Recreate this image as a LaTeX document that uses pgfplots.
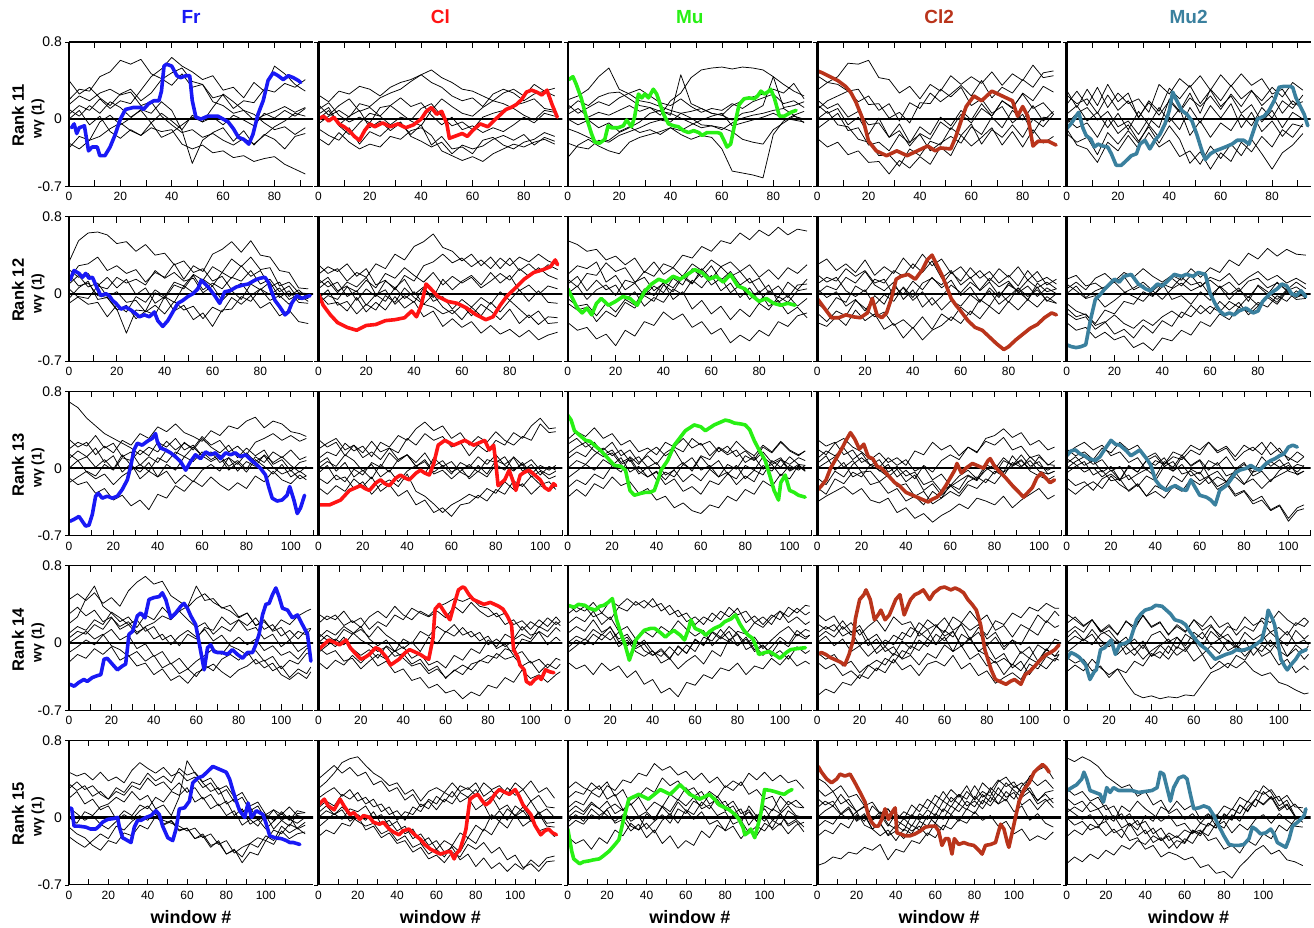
\documentclass[border=0pt]{standalone}
\usepackage{pgfplots}
\pgfplotsset{compat=1.18}
\usepackage{pgfplotstable}
\usepackage{fontspec}
\setmainfont{Liberation Sans}
\usetikzlibrary{calc}

\definecolor{cFr}{RGB}{25,25,245}
\definecolor{cCl}{RGB}{255,20,20}
\definecolor{cMu}{RGB}{40,240,20}
\definecolor{cClt}{RGB}{185,52,27}
\definecolor{cMut}{RGB}{58,128,158}

% values in hundredths of w_gamma
% ---------------- Rank 11 ----------------
\pgfplotstableread{
x a b c d e f g h
0 20 5 -25 10 -30 15 40 0
4 31 14 -31 3 -18 24 26 9
8 29 9 -22 14 -22 19 33 -6
12 44 21 -18 6 -3 27 22 3
16 49 11 -10 18 4 31 14 -13
20 61 19 -4 12 -6 25 26 -20
24 57 16 -12 2 1 28 31 -11
28 62 30 -17 9 10 14 19 -17
32 47 44 -9 -4 6 18 27 -4
36 42 52 -13 6 18 3 41 -19
40 35 64 -11 -2 9 -6 48 -14
44 47 55 -26 -11 -12 -14 53 -6
48 33 49 -31 4 -46 -11 39 2
52 36 41 -27 -3 -22 -19 36 -3
56 22 45 -35 2 -14 -15 18 12
60 25 30 -33 -6 -9 -22 14 26
64 11 33 -40 4 -23 -27 6 18
68 19 22 -38 -1 -12 -20 9 9
72 17 38 -44 -7 -27 -26 -1 5
76 31 29 -41 6 -16 -17 4 -4
80 28 55 -39 1 -21 -8 8 -11
84 37 47 -47 9 -31 -2 13 -8
88 33 36 -52 3 -18 6 7 -16
92 41 29 -57 11 -15 3 12 -9
}\tAa
\pgfplotstableread{
x a b c d e f g h
0 25 10 -5 -20 5 15 -10 0
4 18 17 3 -27 12 4 -17 9
8 29 4 9 -14 -6 14 -22 -7
12 26 -3 2 -24 3 21 -9 -16
16 34 2 16 -31 9 8 -26 -4
20 31 -4 13 -26 -9 12 -13 6
24 24 12 22 -29 -2 3 -18 3
28 33 14 27 -18 -12 -6 -8 14
32 38 6 31 -21 -4 2 -3 22
36 41 -2 39 -12 -16 -1 -18 13
40 46 -7 46 -9 -6 11 -23 17
44 51 9 38 -17 -27 16 -29 4
48 43 21 33 -33 -18 3 -24 -6
52 38 13 24 -38 -31 -7 -36 2
56 31 6 19 -43 -29 -3 -27 -11
60 29 3 22 -39 -36 -11 -31 -7
64 24 12 13 -44 -22 2 -28 -14
68 19 19 26 -36 -19 6 -21 -9
72 27 16 31 -31 -27 9 -17 -13
76 31 11 27 -26 -31 14 -22 -6
80 24 4 19 -29 -24 17 -16 2
84 36 -1 26 -24 -21 21 -27 -4
88 29 9 29 -21 -14 11 -19 6
92 32 7 24 -26 -18 9 -23 3
}\tAb
\pgfplotstableread{
x a b c d e f g h
0 5 -40 20 -10 10 0 15 -25
4 11 -27 24 -14 19 -6 6 -29
8 2 -21 31 -19 14 -1 12 -31
12 7 -28 44 -24 23 -9 18 -22
16 4 -33 53 -22 27 -4 14 -24
20 9 -36 31 -14 28 -13 22 -17
24 14 -24 26 -9 21 -8 27 -13
28 8 -19 19 -3 14 -14 31 -9
32 12 -16 17 6 12 -11 24 -4
36 4 -13 13 9 8 -16 17 -1
40 19 -9 9 4 6 -9 14 -3
44 27 -16 6 46 1 -12 21 6
48 43 -21 8 16 -4 -6 13 1
52 51 -17 11 11 -9 -1 7 -6
56 53 -19 6 6 -7 3 11 -7
60 54 -31 4 4 -11 6 9 -9
64 52 -54 14 -1 -4 -7 16 -13
68 54 -56 19 6 1 -4 11 -21
72 53 -58 23 8 4 -1 18 -24
76 51 -61 26 14 6 2 22 -26
80 44 -16 31 44 9 6 26 -11
84 12 -2 27 36 11 1 16 -4
88 14 4 37 29 4 -1 19 3
92 18 -4 21 24 8 -3 12 0
}\tAc
\pgfplotstableread{
x a b c d e f g h
0 30 10 -10 45 0 20 -20 15
4 38 19 -2 38 8 11 -29 6
8 44 24 6 36 -6 16 -24 11
12 58 29 -12 29 -8 2 -37 -6
16 57 18 -9 31 -21 8 -33 2
20 61 24 -27 15 -24 -6 -45 -16
24 43 9 -24 16 -38 -4 -44 1
28 41 16 -33 1 -37 -19 -57 -19
32 27 -2 -16 7 -49 -12 -43 -5
36 34 17 -25 -4 -31 -28 -51 -24
40 21 11 -8 17 -38 -15 -39 -16
44 36 27 -16 16 -23 -21 -47 -33
48 29 18 2 31 -27 -3 -29 -25
52 45 26 -7 23 -9 -11 -38 -18
56 36 35 9 33 -17 5 -17 -25
60 44 24 -1 14 -5 -4 -28 -8
64 37 40 16 21 -26 11 -19 -16
68 49 22 3 6 -11 3 -9 2
72 35 33 19 13 -19 19 -27 -9
76 47 27 12 -4 -6 11 -13 9
80 40 41 26 5 -19 27 -29 -1
84 56 33 11 -15 0 19 -11 14
88 43 48 17 2 -8 34 -25 -2
92 45 50 5 0 5 28 -18 8
}\tAd
\pgfplotstableread{
x a b c d e f g h
0 15 -5 25 5 -15 30 0 -10
4 29 6 16 14 -24 12 -9 -27
8 14 12 21 -2 -19 31 -4 -31
12 33 -1 6 7 -37 14 -19 -45
16 12 8 25 -9 -14 36 1 -24
20 27 -8 9 6 -26 18 -15 -33
24 16 -2 19 -11 -12 27 -6 -17
28 21 -16 2 8 -25 1 -23 -31
32 7 1 17 -6 -6 19 -8 -14
36 36 -9 4 12 -19 8 -25 -29
40 26 21 19 -3 2 32 -7 -22
44 42 8 7 11 -11 21 -21 -39
48 33 27 22 -17 12 35 -46 -33
52 45 6 13 -2 -4 16 -34 -47
56 30 31 24 -19 14 30 -52 -28
60 46 19 10 -4 1 13 -35 -41
64 34 35 26 -12 16 24 -44 -26
68 47 21 13 5 -9 6 -24 -38
72 35 30 29 -7 7 15 -34 -21
76 42 14 19 12 -13 -3 -18 -36
80 26 24 33 1 -2 9 -29 -52
84 31 6 23 19 -18 -9 -11 -35
88 15 19 38 11 -5 7 -19 -27
92 18 10 30 25 -8 0 -5 -15
}\tAe
% ---------------- Rank 12 ----------------
\pgfplotstableread{
x a b c d e f g h
0 33 15 20 5 -10 25 10 -5
4 55 29 8 -4 -3 17 19 6
8 63 31 11 -11 -5 21 7 13
12 64 38 -2 -9 8 8 11 -6
16 61 24 -4 -24 5 17 -3 -4
20 52 29 -16 -12 17 6 2 -17
24 54 21 -41 -19 11 15 -9 -12
28 44 25 -17 -3 15 -1 -7 -26
32 51 12 -18 -9 9 6 -19 -18
36 40 22 1 4 24 -10 -12 -22
40 42 17 -5 -3 16 -3 -21 -3
44 30 31 9 12 22 -18 -8 -9
48 34 15 5 8 13 -12 -17 8
52 22 29 19 20 16 -27 -13 1
56 26 23 4 14 1 -20 -26 15
60 13 41 11 28 8 -34 -14 8
64 18 46 5 22 -7 -17 -19 22
68 4 54 17 36 3 -16 -4 16
72 11 43 13 28 -6 -3 -11 29
76 -2 55 24 38 10 -8 -2 18
80 5 40 10 25 4 5 -15 24
84 -7 38 15 27 12 -1 -9 7
88 -2 24 2 8 -4 6 -23 12
92 -11 22 8 12 3 -6 -17 -3
96 -1 6 -6 1 -9 -1 -29 4
100 0 5 -5 0 -10 -8 -31 -5
}\tBa
\pgfplotstableread{
x a b c d e f g h
0 20 5 -10 10 30 -5 0 15
4 28 13 -2 17 21 4 -11 7
8 23 1 -6 3 26 -12 -9 12
12 31 12 7 8 13 -8 -18 -3
16 18 7 2 -7 22 -21 -4 3
20 26 17 14 5 17 -11 -19 -12
24 9 -1 6 -3 31 -17 -9 -1
28 14 4 21 13 26 -2 -17 -8
32 4 -11 16 6 41 -9 -3 6
36 19 -2 27 15 35 6 -15 -5
40 13 -9 19 -1 49 -4 -8 2
44 29 6 12 7 54 -11 -24 -11
48 33 -4 22 -8 62 -1 -18 -14
52 41 15 9 -3 48 -14 -34 -21
56 32 4 18 -16 44 -21 -26 -17
60 37 13 11 -6 34 -12 -35 -27
64 28 19 17 -14 41 -23 -29 -14
68 35 9 6 -4 29 -11 -41 -23
72 26 22 13 -11 38 -18 -33 -9
76 37 11 21 2 26 -27 -42 -19
80 29 19 14 -7 37 -16 -37 -7
84 38 3 26 4 24 -31 -45 -16
88 33 9 18 -8 31 -22 -38 -25
92 41 -1 27 3 22 -32 -48 -18
96 34 8 19 -9 30 -24 -43 -31
100 30 5 15 -10 25 -25 -40 -30
}\tBb
\pgfplotstableread{
x a b c d e f g h
0 55 10 -10 20 -30 0 15 -5
4 51 18 -17 29 -38 8 7 -13
8 44 3 -14 26 -35 -6 21 -11
12 46 14 -29 33 -47 4 19 -23
16 35 4 -18 12 -42 9 32 -10
20 39 9 -24 19 -54 -2 23 -19
24 30 -6 -9 4 -38 14 27 -6
28 37 2 -15 11 -44 11 12 -12
32 22 -13 -2 -2 -29 23 17 5
36 33 -4 -8 8 -33 18 3 -2
40 20 -9 9 1 -19 31 11 12
44 27 5 2 16 -27 27 -6 6
48 18 -1 17 9 -21 40 2 19
52 31 14 10 26 -35 37 -16 11
56 24 6 26 17 -29 49 -7 22
60 35 19 15 29 -42 44 -21 9
64 28 3 28 14 -36 55 -13 16
68 33 11 18 23 -51 52 -27 1
72 23 -4 23 9 -43 63 -16 9
76 30 6 11 16 -49 56 -24 -6
80 17 -8 16 1 -38 66 -10 3
84 25 3 1 9 -44 60 -17 -13
88 15 -4 8 -9 -29 69 -3 -7
92 27 12 -4 -2 -34 61 -9 -21
96 21 4 9 -13 -23 67 3 -14
100 30 15 10 -5 -20 65 5 -25
}\tBc
\pgfplotstableread{
x a b c d e f g h
0 10 -10 30 0 -20 20 -30 5
4 17 -18 36 8 -29 12 -34 -4
8 13 -4 24 4 -18 17 -24 2
12 26 -9 31 17 -23 3 -33 -13
16 18 8 22 11 -7 -3 -17 -6
20 24 2 35 23 -15 4 -28 -18
24 11 15 19 9 -24 -12 -21 -2
28 15 11 28 3 -19 -1 -37 -11
32 -2 24 21 12 -33 -8 -31 8
36 6 18 37 -6 -27 7 -46 -1
40 -7 31 26 4 -36 -4 -35 13
44 2 22 41 -14 -24 11 -48 4
48 -12 34 29 -4 -37 16 -38 17
52 -3 16 36 -17 -21 9 -33 6
56 9 24 21 -7 -28 22 -24 14
60 1 9 28 -13 -14 13 -31 -2
64 12 17 16 -1 -22 27 -18 7
68 4 3 24 -9 -6 16 -26 -8
72 16 12 13 6 -13 23 -13 3
76 7 -2 26 -4 2 11 -21 -11
80 13 9 17 11 -9 19 -8 -3
84 1 3 28 2 6 8 -17 6
88 8 14 14 -6 -3 24 -6 -7
92 -3 6 23 7 4 12 -14 11
96 6 12 9 -8 -7 17 -3 2
100 0 5 15 0 -10 10 -10 5
}\tBd
\pgfplotstableread{
x a b c d e f g h
0 0 -20 15 -30 10 -10 5 -15
4 8 -27 19 -38 3 -18 12 -24
8 -4 -24 8 -35 -5 -22 4 -21
12 3 -37 11 -46 -2 -31 16 -33
16 7 -30 4 -40 -14 -17 21 -29
20 12 -22 13 -48 -7 -21 12 -42
24 2 -31 22 -44 1 -8 18 -37
28 -3 -36 17 -56 6 -11 4 -46
32 -8 -27 26 -51 12 2 9 -33
36 3 -33 18 -59 3 -3 -2 -41
40 -6 -24 12 -46 11 10 7 -28
44 5 -18 19 -49 -6 6 16 -34
48 11 -25 14 -38 -2 17 8 -19
52 3 -12 26 -43 -11 9 19 -24
56 8 -21 17 -29 2 12 7 -12
60 14 -13 27 -34 -7 -2 17 -21
64 6 -19 22 -21 8 7 13 -8
68 12 -8 35 -27 -1 -6 21 -17
72 2 -14 29 -14 6 4 9 -9
76 13 -3 42 -19 -8 -4 17 -22
80 16 -12 36 -9 9 8 23 -13
84 6 -2 47 -14 2 -1 14 -4
88 11 -9 39 -2 -6 12 19 -11
92 4 3 46 -8 4 3 11 2
96 12 -4 41 3 -3 7 16 -6
100 5 0 40 -5 0 0 10 -5
}\tBe
% ---------------- Rank 13 ----------------
\pgfplotstableread{
x a b c d e f g h
0 69 20 10 -15 30 0 -10 15
4 63 27 18 -9 22 8 -17 8
8 52 23 12 -3 27 -4 -14 12
12 44 34 21 -8 14 -11 -26 1
16 36 21 6 4 23 -6 -21 9
20 31 26 13 -2 16 -17 -33 -1
24 26 12 -4 11 29 -8 -28 14
28 21 17 5 8 24 -2 -39 3
32 14 3 -11 19 36 4 -33 -4
36 22 12 -3 13 31 -3 -43 6
40 17 6 -9 27 43 11 -27 -9
44 28 19 4 22 38 6 -31 -3
48 19 14 -2 31 46 17 -18 -16
52 26 27 12 19 37 12 -24 -7
56 21 19 7 24 33 22 -13 -14
60 33 31 17 13 28 13 -19 -2
64 24 22 9 17 39 7 -9 4
68 29 16 14 6 34 12 -17 -3
72 17 24 2 11 44 -2 -23 11
76 23 11 8 -3 41 6 -15 4
80 14 21 -1 7 49 -4 -21 16
84 27 13 12 2 53 9 -8 7
88 31 19 6 14 42 2 -14 13
92 36 4 17 6 49 -6 -3 1
96 29 9 11 12 46 4 -12 -6
100 34 -3 19 3 38 -9 -16 -2
104 28 6 9 -4 36 -3 -7 -11
107 31 8 12 2 33 -8 -12 -8
}\tCa
\pgfplotstableread{
x a b c d e f g h
0 10 -10 20 0 -20 5 30 -5
4 17 -16 26 7 -27 11 22 3
8 13 -7 31 2 -18 -3 27 -12
12 26 -14 19 14 -24 6 13 -9
16 18 -1 24 8 -11 -9 24 -21
20 23 -7 11 -3 -19 -2 16 -14
24 12 6 17 4 -9 -11 28 -27
28 27 1 9 -9 -24 4 17 -17
32 22 16 21 -2 -17 -4 21 -12
36 34 7 16 -14 -29 9 9 -19
40 29 14 31 -3 -23 14 14 -6
44 41 2 24 3 -38 6 2 -24
48 48 9 36 -6 -33 16 7 -29
52 39 -4 29 11 -46 2 -6 -37
56 44 3 33 2 -41 8 -2 -46
60 31 -6 22 7 -50 -4 -11 -38
64 37 6 27 -4 -38 1 -3 -33
68 24 1 13 -9 -36 -11 4 -27
72 33 12 24 3 -28 -3 -4 -31
76 27 4 17 -6 -34 -9 9 -21
80 38 14 29 8 -22 4 6 -26
84 29 3 24 4 -27 -2 12 -14
88 24 -3 37 11 -13 12 -2 -22
92 33 6 31 -3 -19 3 4 -16
96 29 -6 44 4 -8 9 -9 -27
100 46 3 52 -7 -17 -2 -3 -18
104 37 -2 41 2 -14 -7 -11 -23
107 38 3 42 -2 -22 -3 -8 -18
}\tCb
\pgfplotstableread{
x a b c d e f g h
0 30 -10 15 0 -20 25 10 -30
4 38 -3 22 8 -12 31 17 -22
8 33 4 27 4 -17 22 12 -29
12 42 -2 18 14 -6 27 24 -16
16 31 9 12 21 -11 14 19 -21
20 36 3 16 13 3 19 27 -9
24 24 11 4 19 -4 6 13 -18
28 29 -4 9 7 12 11 19 -14
32 17 2 -6 12 4 -3 6 -26
36 21 -9 1 1 16 -9 13 -21
40 14 -3 -12 6 22 -4 4 -33
44 27 -12 -4 -7 13 -17 16 -29
48 22 -1 -9 -2 19 -11 22 -41
52 31 6 4 -14 4 -24 17 -36
56 21 -3 -1 -6 11 -19 31 -44
60 26 12 13 -13 -2 -27 24 -47
64 13 1 9 -1 3 -13 28 -38
68 22 8 21 -9 -9 -17 17 -41
72 16 -6 14 4 -4 -6 23 -29
76 28 3 19 -1 -17 -11 12 -34
80 19 -11 6 13 -8 3 18 -22
84 13 -2 12 8 -14 -2 9 -27
88 24 -7 -1 17 3 12 22 -13
92 17 8 4 6 -3 4 16 -19
96 28 1 -8 11 9 9 27 -6
100 19 12 3 -2 4 -3 18 -11
104 14 4 -2 4 11 2 13 3
107 18 3 3 -3 8 -3 18 -2
}\tCc
\pgfplotstableread{
x a b c d e f g h
0 20 -20 5 -35 10 0 30 -10
4 14 -27 13 -29 18 6 23 -17
8 26 -11 -2 -24 13 12 27 -3
12 31 -16 6 -19 21 1 14 -9
16 22 -4 -9 -27 9 8 19 4
20 17 -9 -4 -21 16 -4 6 11
24 9 4 -17 -33 3 -3 11 3
28 16 1 -14 -36 -2 -14 -3 9
32 6 11 -26 -31 -9 -7 4 -4
36 11 3 -21 -46 -1 -19 -9 2
40 3 9 -34 -41 -14 -16 -2 -8
44 18 -3 -29 -52 -7 -29 -11 -4
48 14 2 -38 -47 -23 -24 3 -17
52 27 -12 -24 -56 -16 -37 -4 -13
56 19 -6 -31 -49 -28 -31 8 -24
60 24 -18 -17 -44 -19 -24 14 -18
64 13 -8 -22 -37 -13 -29 9 -26
68 22 -2 -8 -42 -7 -17 22 -14
72 17 -11 -13 -31 -12 -21 16 -9
76 28 4 1 -34 -2 -11 31 -15
80 24 -1 -6 -38 4 -16 34 -3
84 32 11 8 -29 -4 -4 41 -8
88 19 3 3 -41 13 2 32 6
92 23 9 14 -33 2 8 37 1
96 11 -3 2 -27 8 -1 24 12
100 14 -8 7 -21 -3 12 29 3
104 3 -12 -6 -32 -6 4 19 -2
107 8 -8 -3 -28 -3 3 22 2
}\tCd
\pgfplotstableread{
x a b c d e f g h
0 20 -10 5 -20 15 0 -5 10
4 13 -18 12 -27 22 7 2 4
8 17 -14 3 -19 27 12 7 -4
12 9 -23 8 -14 19 4 -7 1
16 21 -11 -4 -21 24 9 -2 -9
20 16 -6 2 -8 13 -3 -13 -2
24 27 -13 -12 -17 17 2 -11 -12
28 19 2 -7 -23 6 -12 -24 3
32 24 -4 -19 -16 11 -6 -17 -4
36 11 8 -8 -29 -2 -1 -29 8
40 16 3 -13 -24 8 -9 -18 13
44 4 11 2 -31 4 7 -23 2
48 12 -3 -3 -19 17 1 -8 7
52 9 4 12 -24 13 14 -14 -6
56 19 -8 3 -11 24 2 -1 -3
60 14 -4 9 -17 19 8 -6 -13
64 27 -16 -2 -9 27 -8 8 -8
68 18 -9 6 -22 16 -3 3 -19
72 23 -14 -8 -16 21 -14 12 -14
76 12 -2 -4 -29 8 -9 -1 -27
80 24 4 -16 -24 17 -17 6 -23
84 18 -4 -11 -37 22 -4 -8 -34
88 27 12 -21 -33 14 -1 -3 -29
92 14 2 -12 -44 27 7 -14 -43
96 21 9 -7 -39 17 1 -2 -38
100 8 -3 -2 -55 11 6 3 -52
104 17 -6 4 -44 6 -7 -4 -41
107 12 -3 2 -42 12 -3 3 -38
}\tCe
% ---------------- Rank 14 ----------------
\pgfplotstableread{
x a b c d e f g h
0 45 20 10 -10 30 0 -20 5
4 51 27 17 -4 37 6 -12 12
8 44 46 13 3 28 12 -16 9
12 52 59 24 -2 34 4 -6 19
16 41 38 19 8 22 9 -12 14
20 47 31 32 14 27 -3 -4 26
24 38 22 26 3 14 -7 -18 17
28 54 27 19 8 19 -14 -13 22
32 63 16 24 -6 9 -9 -24 11
36 69 29 12 -1 17 -19 -21 16
40 61 24 17 -14 21 -13 -33 4
44 64 37 3 -9 28 -26 -27 9
48 49 28 8 -22 24 -21 -39 -2
52 43 33 -3 -16 33 -32 -34 7
56 37 24 9 -27 38 -27 -42 13
60 46 16 4 -19 59 -35 -31 6
64 51 21 16 -13 44 -23 -27 14
68 42 9 13 -6 46 -29 -22 2
72 37 17 27 -12 36 -17 -30 8
76 33 12 19 -1 39 -12 -36 -3
80 26 24 24 6 27 -18 -28 -7
84 31 18 13 -2 31 -9 -24 -13
88 18 26 16 4 18 -22 -17 -8
92 22 14 4 -8 24 -18 -26 -19
96 13 19 9 -3 12 -29 -21 -14
100 24 7 -4 -13 16 -24 -33 -27
104 19 13 3 -9 3 -36 -38 -18
108 28 4 -9 -17 12 -27 -31 -22
112 33 14 -3 -6 8 -32 -37 -11
114 35 15 -5 -5 15 -25 -30 -10
}\tDa
\pgfplotstableread{
x a b c d e f g h
0 20 -10 5 30 -20 10 -5 0
4 28 -3 13 24 -27 3 -12 8
8 24 4 8 29 -18 -4 -8 2
12 33 -2 17 18 -23 6 -19 14
16 21 9 11 23 -13 -6 -16 9
20 26 14 3 16 -21 -13 -27 17
24 14 6 -2 27 -12 -7 -19 4
28 22 17 -9 33 -24 -16 -12 -3
32 17 8 -4 26 -19 -3 -17 3
36 29 2 -14 38 -31 -9 -8 -9
40 24 -6 -11 29 -27 4 -16 -4
44 36 1 -22 24 -39 -1 -24 -16
48 31 -9 -17 33 -36 12 -21 -11
52 27 6 -29 28 -47 7 -32 -23
56 33 -1 -24 37 -43 17 -27 -19
60 26 12 -37 41 -52 11 -36 -26
64 38 7 -28 46 -49 19 -29 -13
68 31 16 -33 43 -58 8 -23 -18
72 42 6 -22 47 -51 12 -28 -6
76 33 11 -19 38 -55 2 -18 -11
80 27 -2 -13 36 -44 7 -21 3
84 31 4 -16 27 -47 -6 -11 -4
88 19 -4 -6 31 -36 -1 -17 9
92 24 3 -9 19 -41 -13 -14 4
96 13 9 4 23 -28 -9 -24 17
100 22 4 1 14 -37 -21 -19 8
104 16 17 12 24 -33 -17 -31 11
108 26 12 6 17 -41 -26 -22 -2
112 19 22 16 27 -33 -16 -27 6
114 22 18 12 22 -30 -18 -22 2
}\tDb
\pgfplotstableread{
x a b c d e f g h
0 30 -10 20 0 -20 10 40 -5
4 37 -3 27 7 -27 17 32 3
8 33 4 22 3 -23 12 38 -2
12 42 -2 33 14 -33 24 27 9
16 31 9 19 8 -21 11 31 3
20 44 3 27 17 -29 16 24 12
24 38 11 12 1 -24 4 37 -4
28 46 -3 17 6 -36 9 33 3
32 39 4 4 -6 -29 -4 43 -9
36 44 -8 12 -1 -43 3 36 -14
40 37 -13 6 -13 -38 -9 46 -8
44 41 -6 17 -8 -52 -14 33 -21
48 29 -16 11 -17 -47 -4 39 -16
52 34 -4 23 -3 -56 -13 27 -27
56 22 -11 14 -11 -41 -2 31 -19
60 27 3 7 4 -44 -9 19 -13
64 19 -2 13 -3 -33 6 27 -22
68 31 11 -3 12 -37 2 22 -8
72 24 4 6 6 -26 14 33 -14
76 37 12 1 17 -29 3 27 4
80 29 -3 12 9 -21 9 36 -3
84 33 4 9 -1 -33 -7 21 6
88 21 -9 21 6 -24 -2 28 -7
92 27 -3 16 -6 -27 -13 19 -2
96 19 -11 26 3 -16 -4 29 -14
100 33 2 33 11 -23 6 24 -8
104 27 -4 21 17 -13 -1 37 -17
108 36 9 27 7 -24 13 31 -4
112 29 4 19 14 -19 6 39 -11
114 32 8 22 12 -22 8 38 -8
}\tDc
\pgfplotstableread{
x a b c d e f g h
0 -55 10 20 -10 30 0 5 -20
4 -48 17 14 -17 23 7 12 -27
8 -52 12 19 -12 28 -3 6 -22
12 -41 23 7 -24 14 4 17 -34
16 -44 11 12 -19 21 -9 8 -29
20 -33 18 -3 -31 8 -3 14 -37
24 -37 3 4 -23 17 -14 -3 -24
28 -26 9 -11 -29 24 -6 4 -18
32 -31 -4 -4 -16 12 3 -9 -23
36 -17 8 -13 -21 27 -2 -4 -11
40 -28 3 2 -8 19 11 -17 -16
44 -23 16 -6 -12 22 6 -13 -3
48 -34 11 11 3 7 21 -23 -8
52 -22 24 4 -4 14 14 -11 4
56 -19 17 17 9 -2 19 -16 -2
60 -24 26 11 2 6 7 -2 13
64 -13 13 27 12 -9 12 -9 6
68 -27 19 21 -4 -3 -3 9 21
72 -21 4 33 6 -17 4 3 13
76 -34 11 22 -9 -11 -8 16 19
80 -29 -3 29 -2 -24 -13 8 4
84 -42 6 13 -17 -19 -21 23 11
88 -36 -7 18 -11 -33 -16 19 -4
92 -31 3 6 -26 -22 -23 31 3
96 -38 -2 19 -19 -29 -9 26 -11
100 -22 14 14 -33 -16 -16 37 -4
104 -27 8 29 -21 -21 -2 33 -19
108 -14 23 21 -27 -7 -8 41 -6
112 -19 16 33 -16 -14 4 36 -14
114 -12 18 28 -18 -12 2 36 -8
}\tDd
\pgfplotstableread{
x a b c d e f g h
0 20 -10 0 10 -30 5 30 -15
4 27 -3 7 17 -23 13 24 -21
8 18 4 2 11 -29 3 17 -17
12 24 -2 14 24 -17 9 24 -29
16 11 9 3 13 -26 -4 12 -24
20 17 13 -4 7 -33 2 19 -36
24 9 2 3 -1 -27 -12 8 -27
28 22 -4 -12 6 -41 -3 23 -31
32 17 -13 -6 -7 -53 4 14 -19
36 28 -2 -17 2 -57 -6 29 -24
40 16 -14 -8 -14 -55 8 17 -11
44 21 -3 -2 -9 -58 12 22 -16
48 9 4 -11 -17 -56 1 8 -3
52 17 -6 6 -4 -57 6 19 -13
56 11 9 -3 -9 -54 -6 12 -6
60 24 3 11 3 -55 2 24 -19
64 13 11 4 -4 -43 -12 17 -12
68 19 -2 17 12 -31 -3 28 -27
72 6 4 9 4 -27 -11 16 -19
76 17 -8 2 9 -21 3 21 -26
80 13 -3 -6 -3 -26 -4 8 -13
84 27 -14 3 -9 -19 11 17 -18
88 18 -4 -13 -1 -29 3 12 -4
92 23 3 -2 -14 -34 9 26 -9
96 11 11 -9 -9 -31 -4 21 3
100 16 3 4 -23 -41 3 33 -8
104 8 12 -3 -17 -44 -14 24 -14
108 21 -1 13 -31 -49 -2 18 -6
112 17 3 4 -24 -53 -9 26 -17
114 22 -2 8 -28 -52 -3 22 -12
}\tDe
% ---------------- Rank 15 ----------------
\pgfplotstableread{
x a b c d e f g h
0 47 30 20 10 -10 0 -20 35
4 43 37 27 4 -17 -6 -26 28
8 46 29 14 -3 -21 6 -31 33
12 39 33 19 2 -29 2 -24 22
16 47 24 8 -7 -34 11 -17 27
20 38 19 12 -12 -24 14 -22 19
24 42 27 -2 -4 -27 21 -9 31
28 36 23 7 3 -16 16 -13 26
32 49 33 2 -2 -19 27 -4 37
36 57 29 13 7 -8 18 2 34
40 51 41 9 12 -12 23 -3 46
44 46 33 21 3 1 9 6 38
48 52 37 16 -3 -7 13 -8 43
52 43 28 27 -6 -3 2 -4 36
56 47 36 23 -9 -13 21 -14 51
60 38 26 31 -14 -11 59 -11 44
64 42 31 16 -11 -22 46 -22 47
68 31 19 21 -21 -17 36 -19 37
72 36 24 9 -17 -29 27 -31 41
76 24 12 14 -28 -26 31 -24 29
80 29 17 2 -24 -38 14 -38 33
84 16 2 7 -37 -33 19 -34 21
88 21 9 -8 -31 -47 6 -41 26
92 7 -7 -2 -27 -36 11 -27 12
96 12 -2 -9 -21 -39 -3 -31 16
100 -2 -12 3 -24 -24 2 -19 3
104 8 -4 -3 -13 -28 -12 -24 8
108 3 4 6 -17 -14 -3 -9 -3
112 11 -3 -2 -7 -22 -9 -16 2
116 2 7 -6 -11 -17 4 -11 -12
120 0 5 0 -5 -15 5 -17 -8
}\tEa
\pgfplotstableread{
x a b c d e f g h
0 30 10 -10 0 20 -20 5 40
4 37 17 -3 7 26 -13 12 47
8 46 12 4 3 31 -17 3 54
12 57 24 -2 11 22 -6 8 46
16 61 19 9 2 29 -9 -4 52
20 63 26 6 -4 17 3 2 43
24 54 14 12 -9 21 -3 -13 47
28 46 19 -1 -6 11 6 -9 34
32 41 6 3 -17 14 -7 -21 38
36 33 11 -9 -13 3 -3 -16 27
40 36 -3 -4 -24 7 -14 -27 31
44 24 6 -17 -19 -3 -9 -24 18
48 29 3 -12 -31 11 -22 -36 24
52 17 14 -26 -27 6 -17 -31 11
56 27 9 -21 -38 19 -29 -43 17
60 31 22 -33 -33 14 -24 -39 8
64 26 16 -24 -41 26 -36 -47 19
68 36 27 -29 -29 21 -31 -36 14
72 27 16 -16 -36 33 -44 -41 26
76 31 21 -21 -21 29 -38 -28 21
80 23 8 -8 -27 36 -51 -33 29
84 36 14 -14 -12 22 -42 -26 16
88 29 -2 3 -18 28 -53 -37 22
92 33 7 -4 -4 19 -47 -31 8
96 24 -3 9 -11 31 -56 -44 13
100 36 12 2 3 23 -48 -39 1
104 29 6 11 -9 29 -54 -52 7
108 38 17 -2 -3 17 -44 -48 -4
112 26 4 4 -14 23 -51 -56 6
116 31 9 -9 -11 11 -42 -46 -6
120 20 0 -10 -20 10 -40 -45 -5
}\tEb
\pgfplotstableread{
x a b c d e f g h
0 10 -10 20 30 -20 0 5 -5
4 17 -3 27 37 -27 7 12 3
8 13 -7 24 31 -23 3 6 -4
12 26 3 36 27 -33 14 16 9
16 21 -2 29 33 -21 9 9 2
20 33 9 37 19 -27 17 2 8
24 28 14 22 24 -13 4 -4 -6
28 39 7 29 8 -19 9 3 -2
32 36 19 13 14 -6 -4 -9 -14
36 46 22 21 1 -13 1 -13 -7
40 43 31 7 6 4 -12 -6 -21
44 56 26 16 -2 -3 -4 -16 -13
48 49 41 11 12 11 3 -3 -27
52 53 33 24 6 2 -6 4 -19
56 44 38 18 19 16 9 -6 -32
60 48 27 31 12 7 4 8 -24
64 39 31 22 21 -2 17 3 -29
68 46 19 27 9 6 12 16 -14
72 36 27 14 13 -7 24 9 -21
76 42 21 19 2 -3 13 22 -8
80 31 33 7 6 -14 17 11 -13
84 38 28 12 -7 -9 4 17 3
88 33 37 -2 -3 -22 9 4 -6
92 46 24 6 -16 -12 -8 8 12
96 39 29 -4 -9 -19 3 -4 1
100 47 19 12 -14 -6 -4 2 9
104 38 22 7 -3 -11 9 -13 -3
108 44 6 22 -8 4 4 -6 4
112 36 17 13 7 -7 12 -17 -9
116 39 11 18 1 -2 2 -8 -4
120 30 10 10 0 -10 0 -5 -15
}\tEc
\pgfplotstableread{
x a b c d e f g h
0 -50 41 10 -10 20 0 -20 30
4 -47 36 17 -3 13 7 -13 22
8 -41 27 12 -7 17 12 -17 27
12 -43 33 24 4 4 3 -6 14
16 -36 21 14 -2 11 9 -11 19
20 -38 24 6 6 -3 -4 3 6
24 -31 12 11 -8 4 2 -4 12
28 -34 16 -3 -12 -12 -12 12 -2
32 -28 4 3 -19 -6 -6 4 6
36 -44 9 -9 -13 -18 -19 9 -7
40 -33 -3 4 -24 -8 -14 -3 -12
44 -36 6 -2 -12 -14 -22 -8 -1
48 -24 1 13 -17 3 -8 -14 -9
52 -27 14 6 -4 -3 -13 -9 4
56 -16 9 19 -9 8 2 -19 -2
60 -21 23 13 4 2 -6 -6 13
64 -8 17 27 -2 17 9 -13 6
68 -12 29 16 12 11 3 3 21
72 -2 21 24 6 24 14 -4 14
76 -6 33 12 17 19 8 9 27
80 6 18 17 11 33 22 4 19
84 -3 27 9 24 21 14 18 36
88 2 22 21 16 27 31 12 28
92 -9 37 14 31 14 23 24 39
96 -4 42 27 21 19 36 17 32
100 -17 31 19 26 6 28 33 37
104 -12 36 33 13 12 21 27 24
108 -24 27 41 19 -3 27 43 31
112 -19 18 33 8 4 14 49 17
116 -23 24 39 17 -6 19 53 26
120 -15 15 30 20 -10 10 40 28
}\tEd
\pgfplotstableread{
x a b c d e f g h
0 62 -48 20 10 0 -20 30 5
4 58 -41 13 4 -8 -13 23 11
8 63 -46 17 -2 -4 -18 27 6
12 59 -38 6 3 -13 -7 17 16
16 53 -43 9 -8 -9 -11 21 9
20 43 -34 -3 -4 -19 2 8 13
24 37 -39 2 -16 -12 -4 12 -1
28 31 -29 -11 -12 -21 12 -2 4
32 34 -33 -6 -24 -6 6 4 -9
36 22 -24 -19 -21 -13 17 -8 -3
40 27 -28 -13 -33 2 9 -4 -17
44 13 -19 -26 -29 -4 3 -17 -11
48 18 -24 -21 -41 11 -4 -11 -24
52 4 -16 -32 -36 6 2 -24 -19
56 9 -21 -24 -39 17 -9 -19 -32
60 -2 -13 -27 -44 8 -6 -26 -22
64 4 -17 -14 -41 13 -16 -13 -27
68 -6 -6 -19 -52 -2 -13 -17 -14
72 3 -9 -6 -49 4 -24 -6 -19
76 1 3 -11 -58 -9 -21 -11 -6
80 12 -2 3 -56 -4 -33 4 -11
84 8 9 -3 -63 -16 -29 -2 3
88 21 4 13 -51 -7 -37 13 -4
92 16 17 7 -43 -13 -24 6 11
96 28 11 19 -34 -2 -29 19 19
100 24 27 14 -29 3 -17 13 33
104 29 19 22 -38 -6 -22 21 26
108 17 22 9 -34 4 -8 7 12
112 23 8 14 -44 -3 -14 13 18
116 11 14 1 -46 -9 -2 1 2
120 10 5 0 -50 -10 0 0 -5
}\tEe

\newcommand{\blk}[1]{\pgfplotsinvokeforeach{a,b,c,d,e,f,g,h}{\addplot[blkline] table[x=x,y=##1]{#1};}}
\newcommand{\zl}{\addplot[zeroline] coordinates {(0,0) (130,0)};}

\pgfplotsset{
  blkline/.style={black, line width=0.75pt, mark=none, line join=round},
  zeroline/.style={black, line width=2.2pt, mark=none},
  wline/.style={line width=3.6pt, mark=none, line join=round, line cap=round},
  panel/.style={
    scale only axis, width=244pt, height=144.5pt, anchor=north west,
    xmin=0, ymin=-70, ymax=80,
    axis line style={draw=none},
    tick align=inside, xtick pos=both,
    ytick=\empty,
    major tick length=6pt, minor tick length=6pt,
    tick style={black, line width=0.7pt},
    xticklabel style={font=\fontsize{12}{14}\selectfont, anchor=base, inner sep=0pt, yshift=-14.5pt},
    /pgf/number format/assume math mode=true,
    title style={font=\bfseries\fontsize{19}{22}\selectfont, at={(0.5,1)}, anchor=base, yshift=12.7pt},
    xlabel style={font=\bfseries\fontsize{18}{20}\selectfont, at={(0.5,0)}, anchor=base, yshift=-39pt},
    after end axis/.code={
      \draw[line width=2.6pt] (rel axis cs:0,0) -- (rel axis cs:0,1);
      \draw[line width=1.1pt] (rel axis cs:0,0) -- (rel axis cs:1,0);
      \draw[line width=1.1pt] (rel axis cs:0,1) -- (rel axis cs:1,1);
      \draw[line width=0.8pt] (rel axis cs:0,0) -- ++(-4pt,0);
      \draw[line width=0.8pt] (rel axis cs:0,1) -- ++(-4pt,0);
    },
  },
  firstcol/.style={
    extra description/.code={
      \node[anchor=east, inner sep=0pt, font=\fontsize{14}{16}\selectfont] at ($(rel axis cs:0,1)+(-7pt,0)$) {0.8};
      \node[anchor=east, inner sep=0pt, font=\fontsize{14}{16}\selectfont] at ($(axis cs:0,0)+(-7pt,0)$) {0};
      \node[anchor=east, inner sep=0pt, font=\fontsize{14}{16}\selectfont] at ($(rel axis cs:0,0)+(-7pt,0)$) {-0.7};
      \node[rotate=90, inner sep=0pt, font=\bfseries\fontsize{16.5}{18}\selectfont] at ($(rel axis cs:0,0.49)+(-51pt,0)$) {#1};
      \node[rotate=90, inner sep=0pt, font=\bfseries\fontsize{14}{16}\selectfont] at ($(rel axis cs:0,0.47)+(-31pt,0)$) {wγ (1)};
    },
  },
  rA/.style={xmax=95, xtick={0,20,...,80}, minor xtick={10,30,...,90}},
  rB/.style={xmax=102, xtick={0,20,...,80}, minor xtick={10,30,...,100}},
  rC/.style={xmax=110, xtick={0,20,...,100}, minor xtick={10,30,...,110}},
  rD/.style={xmax=115, xtick={0,20,...,100}, minor xtick={10,30,...,110}},
  rE/.style={xmax=124, xtick={0,20,...,100}, minor xtick={10,30,...,120}, xlabel={window \#}},
}

\begin{document}
\begin{tikzpicture}
\path[use as bounding box] (-69pt,42pt) rectangle (1245pt,-885pt);

% ===== Rank 11 =====
\begin{axis}[panel, rA, at={(0pt,0pt)}, firstcol={Rank 11}, title={Fr}, title style={color=cFr}]
\blk{\tAa}\zl
\addplot[wline, cFr] coordinates {(1,-9)(2,-5)(3,-15)(4,-9)(6,-7)(7.6,-33)(9,-29)(11,-29)(12,-38)(14,-38)(16,-29)(18,-16)(20,0)(22,10)(25,12)(28,12)(29,10)(31,16)(33,19)(35,19)(36,29)(37,55)(38,57)(40,55)(42,45)(43.5,43)(45.5,45)(47,45)(48,19)(49.4,2)(51.4,0)(54,3)(58,3)(60,0)(62,-3)(64,-10)(66,-19)(68,-21)(70,-26)(71.6,-16)(73.6,5)(75.6,19)(77.5,40)(79.5,48)(81.4,45)(83.4,41)(85.4,45)(87.3,43)(89.3,40)(90.2,38)};
\end{axis}
\begin{axis}[panel, rA, at={(249.4pt,0pt)}, title={Cl}, title style={color=cCl}]
\blk{\tAb}\zl
\addplot[wline, cCl] coordinates {(0,0)(2,3)(4,-2)(6,2)(8,-5)(10,-8)(12,-12)(14,-18)(16,-22)(18,-12)(20,-5)(22,-8)(25,-4)(28,-8)(31,-5)(34,-9)(37,-6)(40,0)(42,8)(44,12)(46,5)(48,8)(50,-5)(51,-20)(53,-18)(56,-15)(58,-18)(60,-12)(63,-5)(66,-8)(69,0)(71,5)(73,10)(75,12)(77,15)(79,20)(81,28)(83,30)(85,28)(87,25)(89,30)(91,15)(93,2)};
\end{axis}
\begin{axis}[panel, rA, at={(498.8pt,0pt)}, title={Mu}, title style={color=cMu}]
\blk{\tAc}\zl
\addplot[wline, cMu] coordinates {(0.4,41)(2,44)(3.3,36)(5.2,22)(7.2,2)(9.2,-15)(10.5,-24)(12.4,-25)(14.4,-21)(15.7,-7)(17,-9)(19.6,-9)(21.6,-7)(22.9,-1)(24.8,-8)(26,2)(27.5,26)(28.8,22)(30,26)(31.4,22)(33.3,31)(34.6,26)(36,15)(37.3,5)(39.2,-5)(41.2,-7)(43.1,-8)(45,-12)(47,-14)(49,-12)(51,-14)(52.3,-17)(54.2,-14)(56.2,-14)(58.2,-14)(59.5,-15)(60.8,-22)(62,-29)(63.4,-26)(64.7,-9)(66.7,15)(68.6,21)(70.6,22)(72.5,21)(73.9,24)(75.2,29)(76.5,26)(77.8,28)(79,31)(80.4,22)(82.4,3)(84.3,3)(86.9,7)(88.9,9)};
\end{axis}
\begin{axis}[panel, rA, at={(748.2pt,0pt)}, title={Cl2}, title style={color=cClt}]
\blk{\tAd}\zl
\addplot[wline, cClt] coordinates {(0,50)(2,48)(5,44)(8,40)(11,34)(13,28)(15,18)(17,5)(18,-2)(20,-23)(23,-33)(27,-38)(31,-33)(35,-38)(39,-33)(43,-28)(46,-33)(48,-30)(52,-31)(54,-18)(56,-2)(58,13)(61,24)(64,19)(68,29)(72,24)(76,19)(78,3)(80,13)(82,3)(84,-28)(86,-23)(90,-23)(93,-27)};
\end{axis}
\begin{axis}[panel, rA, at={(997.6pt,0pt)}, title={Mu2}, title style={color=cMut}]
\blk{\tAe}\zl
\addplot[wline, cMut] coordinates {(0,-10)(1.7,-5)(3.7,3)(4.7,7)(6.3,-9)(7.6,-17)(9.5,-21)(10.8,-29)(12.2,-26)(14.1,-28)(16,-29)(17.4,-36)(19.3,-48)(21.3,-48)(23.3,-43)(25.2,-38)(27.2,-36)(28.5,-26)(30.5,-22)(32.4,-31)(34.4,-22)(36.3,-16)(38.3,-5)(40,9)(41.3,28)(42.9,19)(44.8,9)(46.8,5)(48.8,-2)(50.7,-16)(52.7,-33)(54,-42)(56,-36)(57.9,-33)(59.9,-31)(61.8,-29)(64.4,-26)(66.4,-22)(69,-22)(71,-26)(72.3,-16)(74.3,0)(76.9,3)(78.8,9)(80.8,19)(82.7,33)(84.7,34)(86.7,34)(88,33)(89.3,22)(91.2,12)(92.5,5)(93.9,-7)};
\end{axis}

% ===== Rank 12 =====
\begin{axis}[panel, rB, at={(0pt,-174.6pt)}, firstcol={Rank 12}]
\blk{\tBa}\zl
\addplot[wline, cFr] coordinates {(0.4,14)(2.1,24)(4.2,21)(5.6,17)(7,21)(8.4,16)(9.8,17)(11.2,9)(13.3,-2)(15.4,0)(16.8,-2)(18.2,-7)(19.6,-10)(21.7,-16)(23.8,-14)(25.9,-17)(28,-21)(29.4,-24)(31.5,-22)(33.6,-24)(35.7,-19)(37.1,-28)(39.2,-34)(41.3,-28)(43.4,-19)(45.5,-10)(47.6,-7)(49.7,-3)(51.8,0)(53.9,5)(55.3,14)(57.4,9)(58.8,5)(60.9,-2)(63,-10)(65.1,2)(67.2,3)(70,7)(72.8,9)(74.9,10)(77.7,14)(79.8,16)(81.9,17)(83.3,12)(84.7,2)(86.1,-7)(88.2,-14)(90.3,-22)(91.7,-19)(93.1,-10)(95.2,-2)(97.3,-5)(99.4,-3)(100.8,-2)};
\end{axis}
\begin{axis}[panel, rB, at={(249.4pt,-174.6pt)}]
\blk{\tBb}\zl
\addplot[wline, cCl] coordinates {(0,0)(2,-12)(5,-22)(8,-30)(12,-35)(16,-38)(20,-33)(24,-32)(28,-28)(32,-27)(36,-25)(39,-18)(41,-24)(43,-12)(45,10)(47,5)(50,-3)(54,-8)(58,-10)(62,-15)(66,-22)(70,-27)(73,-24)(76,-12)(79,-2)(82,5)(86,15)(90,22)(94,25)(97,28)(99,35)(100,30)};
\end{axis}
\begin{axis}[panel, rB, at={(498.8pt,-174.6pt)}]
\blk{\tBc}\zl
\addplot[wline, cMu] coordinates {(0,5)(2,-5)(4,-15)(6,-20)(8,-15)(10,-22)(12,-10)(14,-5)(17,-12)(20,-8)(23,-3)(26,-5)(29,-12)(32,2)(35,10)(38,15)(41,12)(44,18)(47,15)(50,20)(53,25)(56,22)(59,15)(62,18)(65,12)(68,20)(71,8)(74,5)(77,-2)(80,-8)(83,-5)(86,-10)(89,-12)(92,-10)(95,-12)};
\end{axis}
\begin{axis}[panel, rB, at={(748.2pt,-174.6pt)}]
\blk{\tBd}\zl
\addplot[wline, cClt] coordinates {(0,-5)(3,-15)(6,-25)(9,-25)(12,-22)(15,-24)(18,-25)(21,-20)(23,-5)(25,-22)(27,-25)(29,-20)(31,-5)(33,15)(35,18)(38,20)(41,15)(44,25)(46,35)(48,40)(50,30)(52,20)(54,8)(56,-5)(58,-12)(60,-18)(63,-28)(66,-35)(69,-38)(72,-45)(75,-52)(78,-58)(80,-55)(83,-48)(86,-42)(89,-36)(92,-32)(95,-25)(98,-20)(100,-22)};
\end{axis}
\begin{axis}[panel, rB, at={(997.6pt,-174.6pt)}]
\blk{\tBe}\zl
\addplot[wline, cMut] coordinates {(0,-53)(2,-55)(4,-56)(6,-55)(8,-53)(10,-27)(12,-6)(14,-1)(16,5)(18,10)(20,15)(22,12)(24,18)(27,20)(30,10)(33,5)(35,3)(38,10)(40,8)(43,15)(45,20)(48,18)(50,20)(53,18)(55,22)(58,20)(60,0)(62,-10)(64,-18)(66,-22)(68,-20)(70,-22)(72,-18)(75,-15)(78,-20)(80,-18)(82,-8)(85,0)(88,5)(90,10)(92,8)(94,0)(96,-2)(98,3)(100,-3)};
\end{axis}

% ===== Rank 13 =====
\begin{axis}[panel, rC, at={(0pt,-349.2pt)}, firstcol={Rank 13}]
\blk{\tCa}\zl
\addplot[wline, cFr] coordinates {(0.5,-55)(2.3,-53)(4.5,-50)(6,-55)(7.5,-60)(9,-59)(10.5,-48)(12,-29)(13.2,-26)(15,-31)(17.3,-29)(19.5,-31)(21.8,-29)(24,-22)(26.3,-12)(27.8,2)(29.3,19)(30.8,26)(33,24)(35.3,28)(37.5,31)(39,36)(39.8,28)(41.3,21)(43.5,19)(45.8,16)(48,12)(50.3,7)(52.6,-2)(54.8,7)(57,14)(59.3,10)(61.6,17)(63.8,14)(66,16)(68.3,10)(70.6,16)(72.8,14)(75,16)(77.3,12)(79.6,14)(81.8,9)(84,5)(86.3,0)(88.6,-7)(90,-19)(91.6,-31)(93.8,-34)(96,-33)(98.3,-28)(99.5,-19)(101.4,-33)(102.9,-47)(104.4,-41)(106.2,-28)};
\end{axis}
\begin{axis}[panel, rC, at={(249.4pt,-349.2pt)}]
\blk{\tCb}\zl
\addplot[wline, cCl] coordinates {(0,-38)(3,-38)(5,-38)(8,-35)(10,-33)(12,-28)(14,-23)(17,-20)(19,-18)(21,-21)(23,-23)(26,-15)(28,-12)(30,-16)(32,-18)(35,-10)(37,-7)(39,-10)(41,-12)(44,-5)(46,-2)(48,-5)(50,-7)(52,5)(54,24)(57,29)(61,24)(63,26)(66,29)(70,24)(73,27)(75,29)(77,19)(79,24)(80,5)(81,-18)(84,-12)(86,-2)(88,-15)(89,-23)(91,-7)(93,-4)(95,-2)(98,-8)(100,-12)(102,-20)(104,-23)(106,-16)(107,-18)};
\end{axis}
\begin{axis}[panel, rC, at={(498.8pt,-349.2pt)}]
\blk{\tCc}\zl
\addplot[wline, cMu] coordinates {(0,55)(1.5,50)(3,39)(5,35)(8,29)(10,28)(12,24)(15,18)(17,13)(19,8)(21,3)(24,2)(26,-2)(28,-23)(30,-28)(33,-26)(35,-25)(37,-25)(39,-23)(41,-10)(42,-2)(45,8)(48,24)(50,30)(53,39)(57,45)(60,43)(62,39)(64,42)(66,45)(69,48)(71,50)(73,49)(75,47)(78,46)(80,45)(82,40)(84,29)(86,20)(89,8)(91,-7)(93,-23)(95,-33)(96,-15)(98,-7)(100,-23)(102,-25)(104,-28)(107,-30)};
\end{axis}
\begin{axis}[panel, rC, at={(748.2pt,-349.2pt)}]
\blk{\tCd}\zl
\addplot[wline, cClt] coordinates {(0,-23)(2,-18)(4,-12)(6,0)(8,8)(11,20)(13,29)(15,37)(17,30)(19,20)(21,25)(23,12)(25,10)(27,2)(29,0)(31,-5)(33,-10)(35,-15)(37,-18)(40,-25)(43,-28)(45,-30)(48,-33)(50,-35)(52,-32)(54,-30)(56,-25)(58,-18)(60,-10)(62,-2)(63,5)(65,-5)(67,0)(70,5)(73,2)(75,0)(77,8)(78,10)(80,2)(82,-3)(85,-10)(88,-18)(91,-25)(93,-30)(95,-25)(97,-20)(99,-10)(101,-5)(103,-10)(105,-15)(107,-12)};
\end{axis}
\begin{axis}[panel, rC, at={(997.6pt,-349.2pt)}]
\blk{\tCe}\zl
\addplot[wline, cMut] coordinates {(0,13)(2,18)(4,19)(6,15)(8,13)(10,10)(13,8)(15,12)(17,19)(20,29)(22,25)(24,24)(27,18)(29,13)(31,16)(33,19)(36,10)(38,3)(40,-12)(42,-18)(45,-23)(47,-20)(49,-18)(52,-22)(54,-23)(56,-12)(58,-20)(60,-28)(63,-30)(65,-33)(67,-38)(69,-23)(72,-18)(74,-12)(76,-5)(78,-2)(81,0)(83,3)(85,0)(87,-2)(90,5)(92,8)(94,10)(96,13)(98,15)(100,22)(102,24)(104,22)};
\end{axis}

% ===== Rank 14 =====
\begin{axis}[panel, rD, at={(0pt,-523.8pt)}, firstcol={Rank 14}]
\blk{\tDa}\zl
\addplot[wline, cFr] coordinates {(0.5,-43)(2.4,-45)(4.7,-41)(7,-38)(8.6,-40)(11,-36)(13.4,-34)(15,-33)(16.5,-17)(18,-16)(20.4,-22)(22.8,-28)(25.2,-24)(26.7,-22)(28.3,9)(30,12)(32.2,28)(33.8,31)(35.8,26)(37.7,45)(40,47)(42.5,48)(44,52)(45.6,45)(48,26)(50.3,31)(52.7,38)(54.2,41)(55.8,36)(57.4,28)(59.7,19)(62.1,-9)(63.7,-28)(65.3,-5)(66.8,-2)(68.4,-9)(70,-10)(72.3,-10)(74.7,-12)(77,-7)(79.4,-12)(81.8,-16)(84.1,-10)(86.5,-10)(88,-2)(89.6,9)(91.2,29)(92.8,40)(94.3,41)(95.9,50)(97.5,57)(99,48)(100.6,36)(103,34)(105.3,26)(107.7,29)(110,19)(112.4,9)(114,-19)};
\end{axis}
\begin{axis}[panel, rD, at={(249.4pt,-523.8pt)}]
\blk{\tDb}\zl
\addplot[wline, cCl] coordinates {(0,-7)(2,-3)(5,3)(8,0)(10,-2)(13,3)(15,-5)(17,-10)(20,-17)(22,-15)(24,-12)(27,-5)(29,-7)(32,-15)(34,-23)(36,-20)(38,-17)(41,-10)(43,-7)(46,-10)(48,-12)(50,-15)(52,-17)(54,5)(55,35)(57,40)(60,30)(62,24)(64,40)(66,55)(68,58)(69,57)(71,50)(73,45)(76,42)(78,40)(81,42)(83,40)(85,38)(87,35)(89,28)(91,19)(92,-7)(94,-15)(95,-23)(97,-28)(98,-40)(100,-43)(102,-38)(104,-35)(105,-38)(107,-28)(109,-30)(111,-31)};
\end{axis}
\begin{axis}[panel, rD, at={(498.8pt,-523.8pt)}]
\blk{\tDc}\zl
\addplot[wline, cMu] coordinates {(0,39)(3,37)(5,40)(8,39)(10,36)(13,34)(15,38)(17,39)(19,42)(21,46)(23,24)(25,10)(27,-2)(29,-18)(31,-5)(32,3)(34,8)(36,13)(39,15)(41,15)(44,10)(46,6)(48,10)(50,13)(53,8)(55,3)(57,15)(58,24)(60,15)(63,12)(65,8)(67,12)(69,15)(72,18)(74,22)(77,25)(79,29)(81,20)(83,13)(85,8)(87,5)(89,-5)(90,-12)(93,-10)(95,-9)(98,-13)(100,-16)(103,-10)(105,-7)(108,-6)(112,-5)};
\end{axis}
\begin{axis}[panel, rD, at={(748.2pt,-523.8pt)}]
\blk{\tDd}\zl
\addplot[wline, cClt] coordinates {(0,-12)(2,-10)(4,-12)(6,-15)(8,-17)(11,-20)(13,-23)(15,-12)(17,3)(18,25)(20,45)(22,50)(23,55)(25,45)(27,24)(29,30)(30,34)(32,24)(34,29)(37,45)(39,50)(41,29)(43,40)(44,45)(46,50)(48,52)(50,55)(53,45)(55,52)(58,57)(60,58)(63,55)(65,57)(67,55)(69,52)(71,45)(73,40)(75,34)(77,19)(79,-7)(82,-28)(84,-38)(86,-40)(89,-43)(91,-40)(93,-38)(96,-43)(98,-33)(100,-30)(103,-23)(105,-18)(108,-12)(110,-10)(112,-7)(114,-2)};
\end{axis}
\begin{axis}[panel, rD, at={(997.6pt,-523.8pt)}]
\blk{\tDe}\zl
\addplot[wline, cMut] coordinates {(0,-17)(2,-10)(4,-12)(6,-15)(9,-23)(11,-38)(13,-30)(14,-28)(16,-7)(18,-5)(21,3)(23,-12)(25,-2)(28,0)(30,3)(33,24)(35,30)(37,34)(40,36)(42,39)(45,38)(47,34)(49,30)(51,24)(54,22)(56,19)(58,12)(61,3)(63,-2)(66,-7)(68,-12)(70,-17)(72,-15)(75,-12)(78,-10)(80,-7)(82,-8)(84,-7)(87,-5)(89,-2)(92,3)(94,20)(95,34)(97,25)(98,19)(100,-5)(101,-17)(103,-25)(104,-28)(106,-22)(108,-17)(110,-10)(113,-7)};
\end{axis}

% ===== Rank 15 =====
\begin{axis}[panel, rE, at={(0pt,-698.4pt)}, firstcol={Rank 15}]
\blk{\tEa}\zl
\addplot[wline, cFr] coordinates {(0.5,10)(1.4,9)(2.6,-9)(5,-9)(8.5,-10)(11,-12)(13.6,-12)(15.3,-9)(17,-5)(19.6,-2)(23,-1)(24.7,0)(25.5,-9)(27.2,-21)(29.8,-24)(31.5,-26)(33.2,-10)(34.9,-3)(36.6,-3)(39.1,0)(41.7,2)(44.2,7)(45.9,3)(47.6,-9)(50.2,-21)(52.7,-24)(54.4,-12)(56.1,9)(58.7,10)(61.2,17)(62.9,36)(65.5,41)(68,43)(70.6,48)(73.1,53)(76.5,50)(79.9,47)(81.6,40)(83.3,28)(85,17)(86.7,7)(89.3,0)(91,15)(92.7,0)(95.2,7)(98.6,3)(100.3,-7)(102,-19)(104.6,-21)(108,-22)(110.5,-24)(112.2,-26)(114,-26)(117.3,-28)};
\end{axis}
\begin{axis}[panel, rE, at={(249.4pt,-698.4pt)}]
\blk{\tEb}\zl
\addplot[wline, cCl] coordinates {(0,13)(3,19)(5,12)(8,8)(11,19)(13,12)(16,3)(18,5)(21,-2)(23,2)(26,0)(28,-5)(31,-7)(33,-5)(36,-12)(38,-15)(41,-18)(43,-14)(46,-12)(49,-18)(52,-23)(54,-28)(57,-33)(60,-36)(62,-38)(65,-36)(67,-35)(69,-43)(70,-38)(72,-33)(74,-20)(75,-12)(77,19)(79,22)(81,24)(83,18)(85,13)(87,16)(88,19)(90,25)(92,29)(95,26)(97,24)(100,29)(102,22)(104,13)(106,8)(108,3)(110,-8)(113,-18)(115,-14)(117,-12)(119,-16)(121,-18)};
\end{axis}
\begin{axis}[panel, rE, at={(498.8pt,-698.4pt)}]
\blk{\tEc}\zl
\addplot[wline, cMu] coordinates {(0,-12)(2,-35)(3,-43)(6,-48)(8,-46)(11,-45)(13,-44)(16,-43)(18,-40)(21,-35)(24,-28)(26,-23)(28,-5)(29,3)(31,19)(34,22)(36,24)(38,22)(41,19)(44,24)(47,29)(50,26)(52,24)(55,30)(57,34)(59,30)(62,24)(64,22)(67,19)(70,22)(72,24)(75,18)(77,13)(80,10)(82,8)(85,3)(87,-2)(89,-10)(90,-18)(92,-15)(93,-12)(95,-21)(97,-5)(98,3)(100,29)(103,28)(105,27)(108,25)(110,24)(112,27)(114,29)};
\end{axis}
\begin{axis}[panel, rE, at={(748.2pt,-698.4pt)}]
\blk{\tEd}\zl
\addplot[wline, cClt] coordinates {(0.5,53)(2.2,47)(4.8,40)(7.3,36)(9.9,40)(11.6,45)(14.1,43)(16.7,45)(19.2,36)(21.8,26)(24.3,16)(26,2)(27.7,-5)(29.4,-9)(31.1,-9)(32.8,-2)(34.5,9)(36.2,-2)(37.9,5)(39.6,10)(40.5,-16)(42.2,-17)(44.7,-19)(47.3,-19)(49.8,-17)(52.4,-14)(54.9,-10)(57.5,-9)(60,-9)(61.7,-14)(63.4,-29)(65.1,-22)(66.8,-22)(68.5,-38)(69.7,-22)(71.9,-28)(74.5,-26)(77,-28)(79.6,-29)(82.1,-34)(83.8,-38)(85.5,-29)(88.1,-28)(90.6,-26)(93.2,-7)(94.9,-12)(96.6,-26)(97.4,-31)(100,-7)(102.6,17)(105.1,29)(107.7,36)(110.2,47)(112.8,52)(114.5,55)(116.2,52)(117.9,47)};
\end{axis}
\begin{axis}[panel, rE, at={(997.6pt,-698.4pt)}]
\blk{\tEe}\zl
\addplot[wline, cMut] coordinates {(0.3,28)(2.6,31)(5.1,34)(7.7,40)(8.8,47)(10.2,40)(11.9,28)(14.5,26)(17,24)(18.7,16)(20.4,31)(22.1,26)(23.8,31)(26.4,28)(29.8,28)(33.2,28)(36.6,26)(40,27)(43.4,28)(46,31)(47.6,47)(49.3,45)(51,31)(52.7,17)(54.4,31)(57,41)(59.5,43)(61.2,40)(62.9,24)(64.6,9)(67.2,10)(69.7,12)(72.3,10)(74.8,2)(77.4,-9)(79.9,-19)(82.5,-28)(85,-29)(87.6,-29)(90.1,-28)(92.7,-22)(94.4,-10)(96,-12)(98.6,-17)(101.2,-16)(103.7,-12)(105.4,-17)(107.1,-26)(108.8,-28)(111.4,-31)(113.1,-22)(114.8,-9)(117.3,-5)(119.9,0)(120.7,2)(121.6,9)};
\end{axis}
\end{tikzpicture}
\end{document}
